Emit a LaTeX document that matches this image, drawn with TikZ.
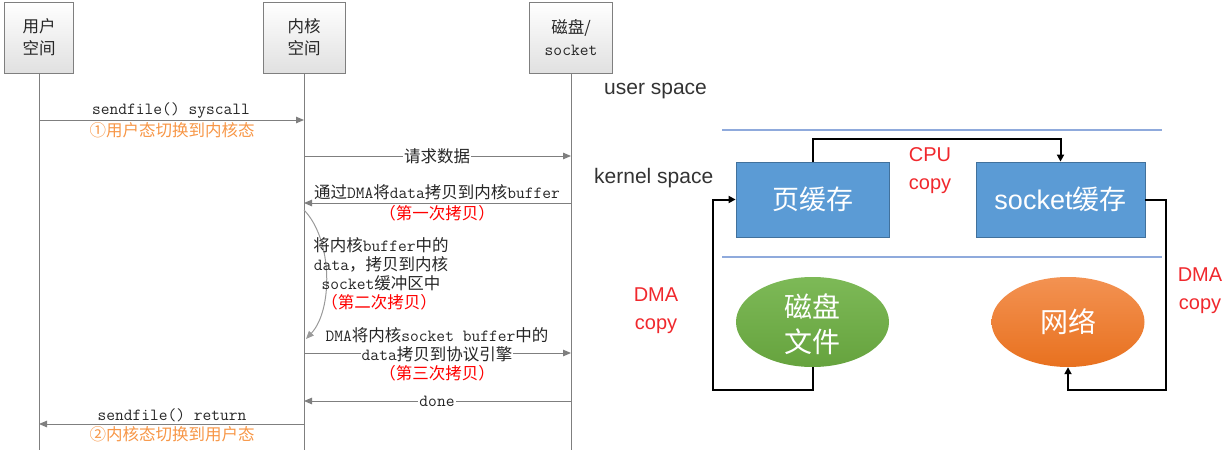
\documentclass[tikz,border=0pt]{standalone}
\usepackage{fontspec}
\setmainfont{Noto Sans CJK SC}
\newfontfamily\lsans{Liberation Sans}
\usetikzlibrary{arrows.meta,shapes.geometric}
\definecolor{seq}{HTML}{7F7F7F}
\definecolor{seqc}{HTML}{9A9A9A}
\definecolor{txt}{HTML}{262626}
\definecolor{org}{HTML}{F79646}
\definecolor{myred}{HTML}{FF0000}
\definecolor{blu}{HTML}{5B9BD5}
\definecolor{bluedge}{HTML}{41719C}
\definecolor{sepc}{HTML}{8FAADC}
\definecolor{drd}{HTML}{F0282D}
\definecolor{gtop}{HTML}{7DB957}
\definecolor{gbot}{HTML}{66A33E}
\definecolor{otop}{HTML}{F39252}
\definecolor{obot}{HTML}{E8711F}
\newcommand\M[1]{{\fontsize{17}{19}\selectfont\ttfamily #1}}
\newcommand\seqfont{\fontsize{16.5}{19}\selectfont}
\tikzset{
  hbox/.style={draw=seq, line width=1pt, top color=white, bottom color=black!12,
    align=center, inner sep=0pt, font=\fontsize{16.5}{22}\selectfont, text=txt},
  life/.style={draw=seq, line width=1pt},
  msg/.style={draw=seq, line width=1pt, -{Triangle[length=8pt,width=6.5pt]}},
  msgc/.style={draw=seqc, line width=1pt, -{Triangle[length=8pt,width=6.5pt]}},
  lbl/.style={font=\seqfont, text=txt, inner sep=1pt, align=center},
  onl/.style={lbl, fill=white},
  olbl/.style={lbl, text=org},
  rlbl/.style={lbl, text=myred},
  sepl/.style={draw=sepc, line width=1.5pt},
  bbox/.style={draw=bluedge, line width=0.8pt, fill=blu, text=white,
    font=\fontsize{27}{30}\selectfont, inner sep=0pt},
  elnode/.style={ellipse, draw=none, minimum width=153pt, minimum height=90pt, inner sep=0pt},
  eltext/.style={text=white, align=center, font=\fontsize{28}{35}\selectfont, inner sep=0pt},
  blk/.style={draw=black, line width=2pt, -{Triangle[length=7pt,width=7pt]}},
  sptext/.style={font=\lsans\fontsize{21}{24}\selectfont, text=black!80, inner sep=0pt},
  cptext/.style={font=\lsans\fontsize{20}{28}\selectfont, text=drd, align=center, inner sep=0pt}
}
\begin{document}
\begin{tikzpicture}[x=1pt,y=-1pt]
\useasboundingbox (0,0) rectangle (1229,450);
% ---------------- left: sequence diagram ----------------
\node[hbox, minimum width=69pt, minimum height=71pt] (U) at (39,37.5) {用户\\空间};
\node[hbox, minimum width=82pt, minimum height=71pt] (K) at (304,37.5) {内核\\空间};
\node[hbox, minimum width=83pt, minimum height=71pt] (D) at (571,37.5) {磁盘/\\\M{socket}};
\coordinate (Ue) at (39,450);
\coordinate (Ke) at (304,450);
\coordinate (De) at (571,450);
\draw[life] (U) -- (Ue);
\draw[life] (K) -- (Ke);
\draw[life] (D) -- (De);

% 1 sendfile syscall
\coordinate (u1) at (39,120); \coordinate (k1) at (304,120);
\draw[msg] (u1) -- (k1);
\node[lbl] (t1) at (171,111) {\M{sendfile() syscall}};
\node[olbl] (t1b) at (172,130) {①用户态切换到内核态};

% 2 request
\coordinate (k2) at (304,156); \coordinate (d2) at (571,156);
\draw[msg] (k2) -- (d2);
\node[onl] (t2) at (437,156) {请求数据};

% 3 DMA copy
\coordinate (d3) at (571,203); \coordinate (k3) at (304,203);
\draw[msg] (d3) -- (k3);
\node[lbl] (t3) at (437,192) {通过\M{DMA}将\M{data}拷贝到内核\M{buffer}};
\node[rlbl] (t3b) at (437,213) {（第一次拷贝）};

% 4 self copy
\coordinate (c1) at (304,210); \coordinate (c2) at (306,339);
\draw[msgc] (c1) .. controls (333,240) and (333,310) .. (c2);
\node[lbl] (t4) at (381,264) {将内核\M{buffer}中的\\\M{data}，拷贝到内核\\\M{socket}缓冲区中};
\node[rlbl] (t4b) at (379,302) {（第二次拷贝）};

% 5 DMA to protocol engine
\coordinate (k5) at (304,353); \coordinate (d5) at (571,353);
\draw[msg] (k5) -- (d5);
\node[lbl] (t5) at (437,335) {\M{DMA}将内核\M{socket buffer}中的};
\node[onl] (t5a) at (437,354) {\M{data}拷贝到协议引擎};
\node[rlbl] (t5b) at (437,373) {（第三次拷贝）};

% 6 done
\coordinate (d6) at (571,401); \coordinate (k6) at (304,401);
\draw[msg] (d6) -- (k6);
\node[onl] (t6) at (437,401) {\M{done}};

% 7 return
\coordinate (k7) at (304,424); \coordinate (u7) at (39,424);
\draw[msg] (k7) -- (u7);
\node[lbl] (t7) at (172,415) {\M{sendfile() return}};
\node[olbl] (t7b) at (172,434) {②内核态切换到用户态};

% ---------------- right: sendfile copy path ----------------
\node[sptext, anchor=west] (us) at (604,91) {user space};
\node[sptext, anchor=west] (ks) at (594,178) {kernel space};
\coordinate (s1a) at (722,130); \coordinate (s1b) at (1162,130);
\coordinate (s2a) at (722,257); \coordinate (s2b) at (1162,257);
\draw[sepl] (s1a) -- (s1b);
\draw[sepl] (s2a) -- (s2b);

\node[bbox, minimum width=153pt, minimum height=75pt] (pc) at (812.5,199.5) {页缓存};
\node[bbox, minimum width=169pt, minimum height=75pt] (sc) at (1060.5,199.5) {{\lsans socket}缓存};

\node[elnode, top color=gtop, bottom color=gbot] (disk) at (812.5,322) {};
\node[eltext] (diskt) at (812.5,324) {磁盘\\文件};
\node[elnode, top color=otop, bottom color=obot] (net) at (1068,322) {};
\node[eltext] (nett) at (1068,322) {网络};

\draw[blk] (pc.north) -- ++(0,-23) -| (sc.north);
\coordinate (l1) at (713,390);
\draw[blk] (disk.south) |- (l1) |- (pc.west);
\coordinate (r1) at (1166,390);
\draw[blk] (sc.east) -| (r1) -| (net.south);

\node[cptext] (cpu) at (930,171) {CPU\\copy};
\node[cptext] (dmal) at (656,311) {DMA\\copy};
\node[cptext] (dmar) at (1200,291) {DMA\\copy};
\end{tikzpicture}
\end{document}
